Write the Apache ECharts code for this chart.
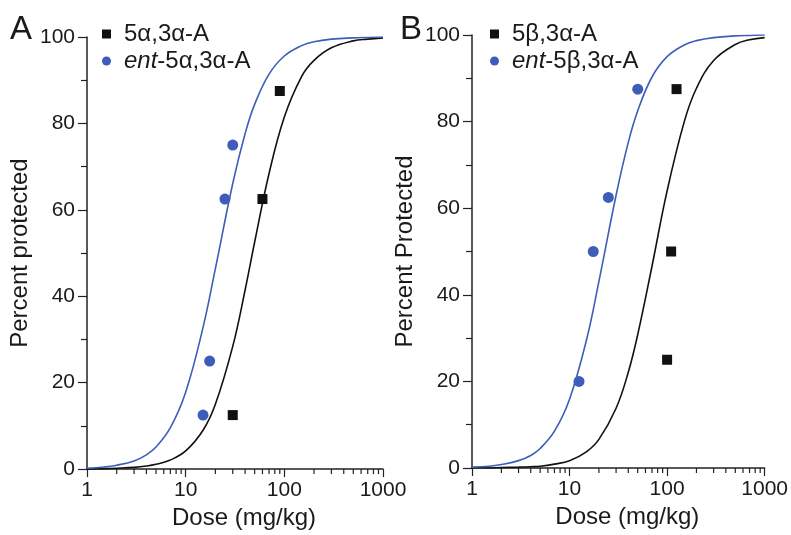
<!DOCTYPE html>
<html>
<head>
<meta charset="utf-8">
<script src="https://cdn.jsdelivr.net/npm/echarts@6.0.0/dist/echarts.min.js"></script>
<style>
  html, body { margin: 0; padding: 0; background: #fff; }
  #chart { width: 791px; height: 535px; }
</style>
</head>
<body>
<div id="chart"></div>
<script>
const curveDoses = [1, 1.5, 2, 3, 4, 5, 7, 10, 15, 20, 30, 40, 50, 70, 100, 150, 200, 300, 500, 700, 1000];
// panel A curves (percent protected)
const curveA_ent = [0.2, 0.5, 0.9, 1.9, 3.3, 5.1, 9.6, 17.8, 32.8, 46.4, 66.1, 77.6, 84.4, 91.4, 95.6, 98.0, 98.9, 99.5, 99.8, 99.9, 100];
const curveA_nat = [0.0, 0.1, 0.2, 0.4, 0.7, 1.1, 2.1, 4.2, 9.0, 15.0, 28.4, 41.4, 52.5, 68.4, 81.5, 90.9, 94.6, 97.5, 99.1, 99.5, 99.8];
// panel B curves
const curveB_ent = [0.2, 0.4, 0.8, 1.7, 2.9, 4.5, 8.5, 15.9, 29.8, 43.1, 63.0, 75.2, 82.5, 90.3, 95.0, 97.7, 98.7, 99.4, 99.8, 99.9, 100];
const curveB_nat = [0.0, 0.0, 0.1, 0.2, 0.3, 0.4, 0.9, 1.7, 3.8, 6.6, 13.8, 22.1, 30.8, 46.6, 64.0, 80.0, 87.7, 94.1, 97.8, 98.9, 99.4];

// measured points
const doseA_nat = [30, 60, 90];
const pctA_nat = [12.5, 62.5, 87.5];
const doseA_ent = [15, 17.5, 25, 30];
const pctA_ent = [12.5, 25, 62.5, 75];
const doseB_nat = [100, 110, 125];
const pctB_nat = [25, 50, 87.5];
const doseB_ent = [12.5, 17.5, 25, 50];
const pctB_ent = [20, 50, 62.5, 87.5];

const namesA = ['5α,3α-A', 'ent-5α,3α-A'];
const namesB = ['5β,3α-A', 'ent-5β,3α-A'];
const xMinorTicks = [2, 3, 4, 5, 6, 7, 8, 9, 20, 30, 40, 50, 60, 70, 80, 90, 200, 300, 400, 500, 600, 700, 800, 900];

const blue = '#3d5db9';
const black = '#111';
const txt = '#1a1a1a';
const axisCol = '#222';
const font = 'Liberation Sans, Arial, sans-serif';

function pairs(xs, ys) {
    return xs.map((x, i) => [x, ys[i]]);
}

function xAx(grid) {
    return {
        type: 'log', logBase: 10, gridIndex: grid, min: 1, max: 1000,
        name: 'Dose (mg/kg)', nameLocation: 'middle', nameGap: 32,
        nameTextStyle: { color: txt, fontSize: 24, fontFamily: font, padding: [0, 0, 0, 18] },
        axisLine: { lineStyle: { color: axisCol, width: 1.5 } },
        axisTick: { length: 8, lineStyle: { color: axisCol, width: 1.2 } },
        axisLabel: {
            color: txt, fontSize: 21, fontFamily: font, margin: 11, showMaxLabel: true, showMinLabel: true,
            formatter: function (v) { return String(v); }
        },
        splitLine: { show: false }
    };
}
function yAx(grid, name) {
    return {
        type: 'value', gridIndex: grid, min: 0, max: 100, interval: 20,
        name: name, nameLocation: 'middle', nameGap: 55,
        nameTextStyle: { color: txt, fontSize: 24, fontFamily: font },
        axisLine: { show: true, lineStyle: { color: axisCol, width: 1.5 } },
        axisTick: { show: true, length: 9, lineStyle: { color: axisCol, width: 1.2 } },
        minorTick: { show: true, splitNumber: 2, length: 6, lineStyle: { color: axisCol, width: 1.2 } },
        axisLabel: { color: txt, fontSize: 21, fontFamily: font, margin: 12 },
        splitLine: { show: false }
    };
}
function legendFor(names, left) {
    return {
        orient: 'vertical', left: left, top: 17, itemGap: 3,
        itemWidth: 9, itemHeight: 9,
        data: [{ name: names[0], icon: 'rect' }, { name: names[1], icon: 'circle' }],
        formatter: function (n) {
            return n.indexOf('ent-') === 0 ? '{i|ent}' + n.slice(3) : n;
        },
        textStyle: {
            color: txt, fontSize: 24, fontFamily: font, padding: [0, 0, 0, 8],
            rich: { i: { fontStyle: 'italic', fontSize: 24, fontFamily: font, color: txt } }
        }
    };
}
// short minor ticks of the log axis (2..9 in each decade)
function minorTicks(xi, yi) {
    return {
        type: 'custom', xAxisIndex: xi, yAxisIndex: yi, silent: true, clip: false, z: 5,
        data: xMinorTicks.map(v => [v, 0]),
        renderItem: function (params, api) {
            const p = api.coord([api.value(0), api.value(1)]);
            return {
                type: 'line',
                shape: { x1: p[0], y1: p[1], x2: p[0], y2: p[1] + 5 },
                style: { stroke: axisCol, lineWidth: 1.2 }
            };
        }
    };
}
function curve(xi, yi, ys, color) {
    return {
        type: 'line', xAxisIndex: xi, yAxisIndex: yi, data: pairs(curveDoses, ys),
        smooth: 0.4, showSymbol: false, symbol: 'none', silent: true,
        lineStyle: { color: color, width: 1.6 }, z: 2
    };
}
function dots(name, xi, yi, xs, ys, shape, color, size) {
    return {
        name: name, type: 'scatter', xAxisIndex: xi, yAxisIndex: yi, data: pairs(xs, ys),
        symbol: shape, symbolSize: size, itemStyle: { color: color, opacity: 1 }, z: 3
    };
}

const chart = echarts.init(document.getElementById('chart'), null, { renderer: 'canvas' });
const option = {
    animation: false,
    backgroundColor: '#fff',
    grid: [
        { left: 87, top: 37, width: 296, height: 433 },
        { left: 472, top: 35, width: 296, height: 433 }
    ],
    xAxis: [xAx(0), xAx(1)],
    yAxis: [yAx(0, 'Percent protected'), yAx(1, 'Percent Protected')],
    legend: [legendFor(namesA, 97), legendFor(namesB, 485)],
    graphic: [
        { type: 'text', left: 10, top: 13, style: { text: 'A', fontSize: 33, fontFamily: font, fill: txt } },
        { type: 'text', left: 400, top: 13, style: { text: 'B', fontSize: 33, fontFamily: font, fill: txt } }
    ],
    series: [
        minorTicks(0, 0),
        curve(0, 0, curveA_nat, black),
        curve(0, 0, curveA_ent, blue),
        dots(namesA[0], 0, 0, doseA_nat, pctA_nat, 'rect', black, 10),
        dots(namesA[1], 0, 0, doseA_ent, pctA_ent, 'circle', blue, 11),
        minorTicks(1, 1),
        curve(1, 1, curveB_nat, black),
        curve(1, 1, curveB_ent, blue),
        dots(namesB[0], 1, 1, doseB_nat, pctB_nat, 'rect', black, 10),
        dots(namesB[1], 1, 1, doseB_ent, pctB_ent, 'circle', blue, 11)
    ]
};
chart.setOption(option);
</script>
</body>
</html>
